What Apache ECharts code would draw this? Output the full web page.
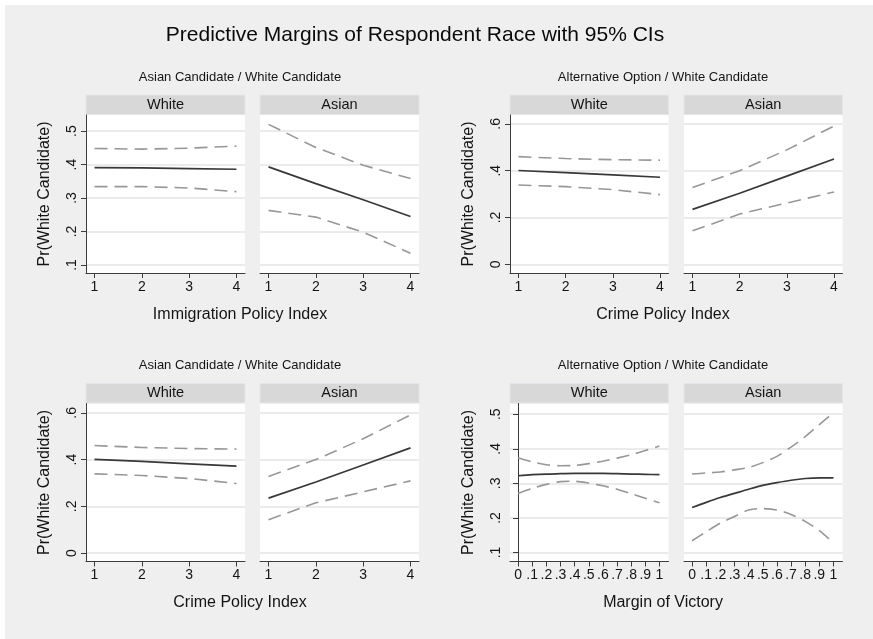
<!DOCTYPE html>
<html>
<head>
<meta charset="utf-8">
<script src="https://cdn.jsdelivr.net/npm/echarts@6/dist/echarts.min.js"></script>
<style>
  html, body { margin: 0; padding: 0; background: #ffffff; }
  #chart { width: 873px; height: 639px; }
</style>
</head>
<body>
<div id="chart"></div>
<script>
// ---- x values ----
const policyIndex = [1, 2, 3, 4];
const marginOfVictory = [0, 0.1, 0.2, 0.3, 0.4, 0.5, 0.6, 0.7, 0.8, 0.9, 1];

// ---- tick labels ----
const policyTicks = [1, 2, 3, 4];
const marginTicks = [0, 0.1, 0.2, 0.3, 0.4, 0.5, 0.6, 0.7, 0.8, 0.9, 1];
const immigYTicks = [0.1, 0.2, 0.3, 0.4, 0.5];
const crimeYTicks = [0, 0.2, 0.4, 0.6];
const marginYTicks = [0.1, 0.2, 0.3, 0.4, 0.5];

// ---- Immigration policy index: Asian Candidate / White Candidate ----
const immigWhiteMean = [0.391, 0.390, 0.388, 0.386];
const immigWhiteLow  = [0.334, 0.334, 0.330, 0.319];
const immigWhiteHigh = [0.448, 0.446, 0.449, 0.455];
const immigAsianMean = [0.393, 0.343, 0.295, 0.245];
const immigAsianLow  = [0.263, 0.243, 0.198, 0.135];
const immigAsianHigh = [0.520, 0.451, 0.398, 0.358];

// ---- Crime policy index: Alternative Option / White Candidate ----
const crimeAltWhiteMean = [0.401, 0.392, 0.382, 0.372];
const crimeAltWhiteLow  = [0.339, 0.332, 0.319, 0.298];
const crimeAltWhiteHigh = [0.460, 0.452, 0.447, 0.445];
const crimeAltAsianMean = [0.235, 0.304, 0.377, 0.450];
const crimeAltAsianLow  = [0.143, 0.215, 0.262, 0.309];
const crimeAltAsianHigh = [0.328, 0.400, 0.489, 0.591];

// ---- Crime policy index: Asian Candidate / White Candidate ----
const crimeAsnWhiteMean = [0.401, 0.392, 0.382, 0.372];
const crimeAsnWhiteLow  = [0.339, 0.332, 0.319, 0.298];
const crimeAsnWhiteHigh = [0.460, 0.452, 0.447, 0.445];
const crimeAsnAsianMean = [0.235, 0.304, 0.377, 0.450];
const crimeAsnAsianLow  = [0.143, 0.215, 0.262, 0.309];
const crimeAsnAsianHigh = [0.328, 0.400, 0.489, 0.591];

// ---- Margin of victory: Alternative Option / White Candidate ----
const marginWhiteMean = [0.322, 0.325, 0.327, 0.328, 0.329, 0.329, 0.329, 0.328, 0.327, 0.326, 0.325];
const marginWhiteLow  = [0.271, 0.285, 0.297, 0.305, 0.306, 0.301, 0.293, 0.283, 0.270, 0.257, 0.244];
const marginWhiteHigh = [0.374, 0.362, 0.354, 0.351, 0.352, 0.357, 0.364, 0.373, 0.383, 0.395, 0.408];
const marginAsianMean = [0.230, 0.245, 0.259, 0.271, 0.283, 0.294, 0.302, 0.309, 0.314, 0.316, 0.316];
const marginAsianLow  = [0.134, 0.160, 0.185, 0.204, 0.223, 0.227, 0.223, 0.210, 0.190, 0.163, 0.128];
const marginAsianHigh = [0.327, 0.330, 0.333, 0.339, 0.346, 0.360, 0.378, 0.405, 0.435, 0.470, 0.504];

// ---- text ----
const mainTitle = 'Predictive Margins of Respondent Race with 95% CIs';
const yTitle = 'Pr(White Candidate)';
const stripNames = ['White', 'Asian'];

// ---- panel layout (each block: two facets side by side) ----
const FONT = '"Liberation Sans", Arial, Helvetica, sans-serif';
const TEXT = '#141414';
const blocks = [
  { sub: 'Asian Candidate / White Candidate', xTitle: 'Immigration Policy Index',
    left: [86, 260], top: 115, w: 159, h: 158, xMin: 0.82, xMax: 4.18,
    yMin: 0.076, yMax: 0.548, xs: policyIndex, xTicks: policyTicks, yTicks: immigYTicks,
    data: [[immigWhiteMean, immigWhiteLow, immigWhiteHigh], [immigAsianMean, immigAsianLow, immigAsianHigh]],
    subY: 77, xTitleY: 315, yTitleX: 45, cx: 240 },
  { sub: 'Alternative Option / White Candidate', xTitle: 'Crime Policy Index',
    left: [510, 684], top: 115, w: 158.5, h: 158, xMin: 0.82, xMax: 4.18,
    yMin: -0.037, yMax: 0.638, xs: policyIndex, xTicks: policyTicks, yTicks: crimeYTicks,
    data: [[crimeAltWhiteMean, crimeAltWhiteLow, crimeAltWhiteHigh], [crimeAltAsianMean, crimeAltAsianLow, crimeAltAsianHigh]],
    subY: 77, xTitleY: 315, yTitleX: 469, cx: 663 },
  { sub: 'Asian Candidate / White Candidate', xTitle: 'Crime Policy Index',
    left: [86, 260], top: 403.5, w: 159, h: 158, xMin: 0.82, xMax: 4.18,
    yMin: -0.036, yMax: 0.64, xs: policyIndex, xTicks: policyTicks, yTicks: crimeYTicks,
    data: [[crimeAsnWhiteMean, crimeAsnWhiteLow, crimeAsnWhiteHigh], [crimeAsnAsianMean, crimeAsnAsianLow, crimeAsnAsianHigh]],
    subY: 365, xTitleY: 603, yTitleX: 45, cx: 240 },
  { sub: 'Alternative Option / White Candidate', xTitle: 'Margin of Victory',
    left: [510, 684], top: 403.5, w: 158.5, h: 158, xMin: -0.057, xMax: 1.064,
    yMin: 0.074, yMax: 0.531, xs: marginOfVictory, xTicks: marginTicks, yTicks: marginYTicks,
    data: [[marginWhiteMean, marginWhiteLow, marginWhiteHigh], [marginAsianMean, marginAsianLow, marginAsianHigh]],
    subY: 365, xTitleY: 603, yTitleX: 469, cx: 663, smooth: true }
];

function fmt(v) {
  if (v === 0) return '0';
  if (v === 1) return '1';
  return String(+v.toFixed(2)).replace(/^0\./, '.').replace(/^-0\./, '-.');
}

const grids = [], xAxes = [], yAxes = [], series = [];
const graphics = [
  { type: 'rect', shape: { x: 5, y: 5, width: 873, height: 639 }, style: { fill: '#efefef' }, z: -100 },
  { type: 'text', x: 415, y: 35, style: { text: mainTitle, font: '21px ' + FONT, fill: '#0a0a0a', align: 'center', verticalAlign: 'middle' } }
];

blocks.forEach((b) => {
  graphics.push({ type: 'text', x: b.cx, y: b.subY,
    style: { text: b.sub, font: '13px ' + FONT, fill: TEXT, align: 'center', verticalAlign: 'middle' } });
  graphics.push({ type: 'text', x: b.cx, y: b.xTitleY,
    style: { text: b.xTitle, font: '16px ' + FONT, fill: TEXT, align: 'center', verticalAlign: 'middle' } });
  graphics.push({ type: 'text', x: b.yTitleX, y: b.top + b.h / 2, rotation: Math.PI / 2,
    style: { text: yTitle, font: '16px ' + FONT, fill: TEXT, align: 'center', verticalAlign: 'middle' } });

  b.left.forEach((lx, k) => {
    const gi = grids.length;
    // facet strip
    graphics.push({ type: 'rect', shape: { x: lx, y: b.top - 20, width: b.w, height: 19.5 },
      style: { fill: '#d8d8d8', stroke: '#e2e6ea', lineWidth: 1 } });
    graphics.push({ type: 'text', x: lx + b.w / 2, y: b.top - 10.5,
      style: { text: stripNames[k], font: '14.5px ' + FONT, fill: TEXT, align: 'center', verticalAlign: 'middle' } });

    grids.push({ left: lx, top: b.top, width: b.w, height: b.h, show: true,
      backgroundColor: '#ffffff', borderWidth: 0, containLabel: false });

    xAxes.push({
      type: 'value', gridIndex: gi, min: b.xMin, max: b.xMax,
      axisLine: { show: true, onZero: false, lineStyle: { color: '#3c3c3c', width: 1 } },
      axisTick: { show: true, length: 5, customValues: b.xTicks, lineStyle: { color: '#3c3c3c', width: 1 } },
      axisLabel: { show: true, customValues: b.xTicks, formatter: fmt, margin: 7,
        fontFamily: FONT, fontSize: 14, color: TEXT, hideOverlap: false },
      splitLine: { show: false }
    });

    const isLeft = k === 0;
    yAxes.push({
      type: 'value', gridIndex: gi, min: b.yMin, max: b.yMax,
      axisLine: { show: isLeft, lineStyle: { color: '#3c3c3c', width: 1 } },
      axisTick: { show: isLeft, length: 5, customValues: b.yTicks, lineStyle: { color: '#3c3c3c', width: 1 } },
      axisLabel: { show: isLeft, customValues: b.yTicks, formatter: fmt, rotate: 90, margin: 7,
        fontFamily: FONT, fontSize: 14, color: TEXT },
      splitLine: { show: true, lineStyle: { color: '#ebebeb', width: 2 } }
    });

    const [mean, low, high] = b.data[k];
    const toPts = (arr) => b.xs.map((x, i) => [x, arr[i]]);
    const ci = { color: '#979797', width: 1.6, type: [13, 7] };
    [[low, ci], [high, ci], [mean, { color: '#383838', width: 1.7, type: 'solid' }]].forEach(([arr, ls]) => {
      series.push({
        type: 'line', xAxisIndex: gi, yAxisIndex: gi, data: toPts(arr),
        showSymbol: false, symbol: 'none', smooth: b.smooth ? 0.3 : false,
        lineStyle: ls, silent: true, animation: false
      });
    });
  });
});

const chart = echarts.init(document.getElementById('chart'), null, { renderer: 'canvas' });
chart.setOption({
  backgroundColor: '#ffffff',
  animation: false,
  grid: grids,
  xAxis: xAxes,
  yAxis: yAxes,
  series: series,
  graphic: graphics
});
</script>
</body>
</html>
